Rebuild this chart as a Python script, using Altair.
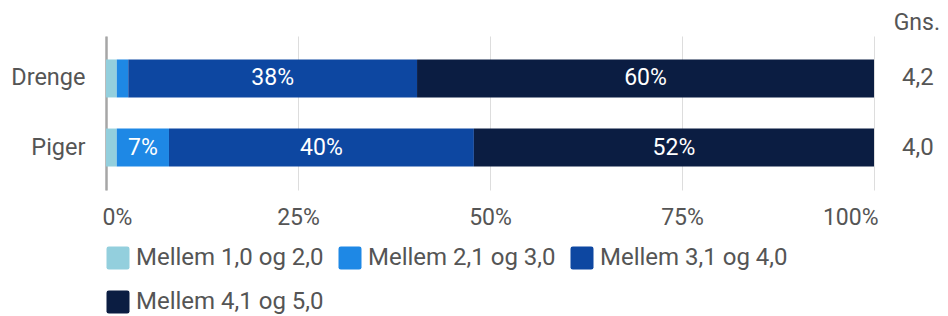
import altair as alt
import pandas as pd

categories = ["Drenge", "Piger"]
series = ["Mellem 1,0 og 2,0", "Mellem 2,1 og 3,0", "Mellem 3,1 og 4,0", "Mellem 4,1 og 5,0"]
colors = ["#93CFDD", "#1E88E5", "#0D47A1", "#0B1D42"]
drenge = [1.4, 1.5, 37.6, 59.5]
piger = [1.4, 6.8, 39.7, 52.1]
averages = ["4,2", "4,0"]
avg_header = "Gns."
ticks = [0, 25, 50, 75, 100]

rows = []
for cat, vals in zip(categories, [drenge, piger]):
    start = 0.0
    for i, (s, v) in enumerate(zip(series, vals)):
        end = start + v
        rows.append({
            "cat": cat, "series": s, "order": i, "value": v,
            "start": start, "end": end, "mid": (start + end) / 2,
            "label": f"{round(v)}%" if v >= 5 else "",
        })
        start = end
df = pd.DataFrame(rows)
avg_df = pd.DataFrame({"cat": categories, "avg": averages})
hdr_df = pd.DataFrame({"t": [avg_header]})

FONT = "Roboto"
TXT = "#555555"

yscale = alt.Scale(domain=categories, paddingInner=0.45, paddingOuter=0.34)
xscale = alt.Scale(domain=[0, 100], nice=False)

bars = alt.Chart(df).mark_bar().encode(
    y=alt.Y("cat:N", scale=yscale, sort=categories, title=None,
            axis=alt.Axis(domain=True, domainColor="#a6a6a6", domainWidth=2.5,
                          ticks=False, labelPadding=21, labelFontSize=23.5,
                          labelColor=TXT, labelFont=FONT,
                          minExtent=92, maxExtent=92)),
    x=alt.X("start:Q", scale=xscale, title=None,
            axis=alt.Axis(values=ticks, labelExpr="datum.value + '%'",
                          grid=True, gridColor="#dddddd", gridWidth=1,
                          domain=False, ticks=False, labelPadding=16,
                          labelFontSize=23, labelColor=TXT, labelFont=FONT,
                          labelFlush=True, labelFlushOffset=4)),
    x2="end:Q",
    color=alt.Color("series:N", scale=alt.Scale(domain=series, range=colors),
                    sort=series,
                    legend=alt.Legend(
                        title=None, orient="none", legendX=0, legendY=210,
                        direction="horizontal", columns=3, columnPadding=14,
                        rowPadding=20, padding=0,
                        symbolType="M -0.8 -1 H 0.8 Q 1 -1 1 -0.8 V 0.8 Q 1 1 0.8 1 H -0.8 Q -1 1 -1 0.8 V -0.8 Q -1 -1 -0.8 -1 Z",
                        symbolSize=529, symbolStrokeWidth=0, symbolOpacity=1,
                        labelFontSize=24, labelFont=FONT, labelColor=TXT,
                        labelOffset=6, labelLimit=400)),
    order=alt.Order("order:Q"),
)

labels = alt.Chart(df).mark_text(color="white", fontSize=23, font=FONT).encode(
    y=alt.Y("cat:N", scale=yscale, sort=categories),
    x=alt.X("mid:Q", scale=xscale),
    text="label:N",
)

avg = alt.Chart(avg_df).mark_text(align="left", fontSize=24, font=FONT, color=TXT).encode(
    y=alt.Y("cat:N", scale=yscale, sort=categories),
    x=alt.value(796),
    text="avg:N",
)

hdr = alt.Chart(hdr_df).mark_text(align="right", baseline="alphabetic", fontSize=23,
                                  font=FONT, color=TXT).encode(
    x=alt.value(834), y=alt.value(-6), text="t:N",
)

chart = alt.layer(bars, labels, avg, hdr).properties(
    width=768, height=154,
    autosize=alt.AutoSizeParams(type="none"),
    padding={"left": 98, "top": 28, "right": 66, "bottom": 126},
).configure_view(stroke=None)

chart.save("out.html", embed_options={"renderer": "svg", "actions": False})
